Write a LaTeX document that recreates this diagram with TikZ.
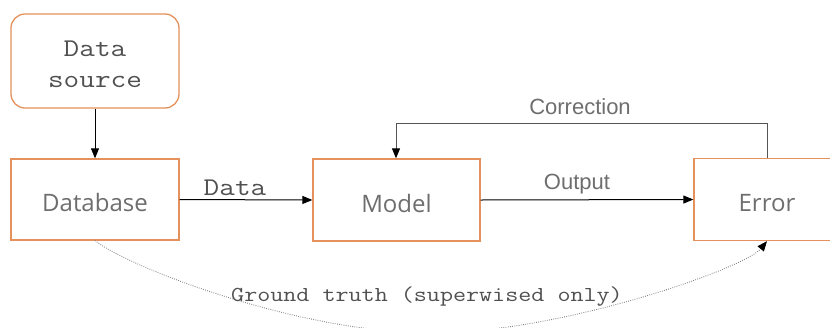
\documentclass[tikz,border=0pt]{standalone}
\usepackage{fontspec}
\setmainfont{Open Sans}
\newfontfamily\labelfont{Liberation Sans}
\newfontfamily\codefont[FakeStretch=1.19]{Latin Modern Mono}
\usetikzlibrary{arrows.meta}

\definecolor{boxline}{HTML}{E5915B}
\definecolor{textgray}{HTML}{6E6E6E}
\definecolor{codegray}{HTML}{505050}
\definecolor{linkgray}{HTML}{555555}

\tikzset{
  block/.style={draw=boxline, line width=1.3pt, fill=white, inner sep=0pt,
    text=textgray, font=\fontsize{24}{28}\selectfont,
    text height=24pt, text depth=0pt},
  sourcebox/.style={draw=boxline, line width=1.3pt, fill=white, rounded corners=14pt},
  sourcetext/.style={align=center, inner sep=0pt, text=codegray,
    font=\codefont\fontsize{25.5}{31}\selectfont},
  tip/.style={-{Triangle[length=10pt,width=8pt,color=black]}},
  link/.style={draw=black, line width=1pt, tip},
  feedback/.style={draw=linkgray, line width=1pt, tip},
  truth/.style={draw=gray, line width=0.9pt, dash pattern=on 0.8pt off 1.4pt, tip},
  sanslabel/.style={text=textgray, font=\labelfont\fontsize{22}{26}\selectfont, inner sep=0pt},
  codelabel/.style={text=codegray, font=\codefont\fontsize{25.5}{30}\selectfont, inner sep=0pt},
  smallcode/.style={text=codegray, font=\codefont\fontsize{21.3}{26}\selectfont, inner sep=0pt}
}

\begin{document}
\begin{tikzpicture}[x=1pt, y=-1pt]
  \useasboundingbox (0,0) rectangle (830,327);

  % boxes
  \node[sourcebox, minimum width=168pt, minimum height=94pt] (src) at (95,61) {};
  \node[sourcetext] (srcText) at (95,64) {Data\\source};
  \node[block, minimum width=168pt, minimum height=81pt] (db) at (95,199.5) {Database};
  \node[block, minimum width=167pt, minimum height=82pt] (model) at (396.5,200) {Model};
  \node[block, minimum width=146pt, minimum height=82pt] (err) at (767,199.5) {Error};

  % main flow
  \draw[link] (src.south) -- (db.north);
  \draw[link] (db.east) -- (model.west);
  \draw[link] (model.east) -- (err.west);

  % feedback loop
  \coordinate (corrR) at (767,123);
  \coordinate (corrL) at (396,123);
  \draw[feedback] (err.north) -- (corrR) -- (corrL) -- (model.north -| corrL);

  % ground truth path
  \coordinate (low) at (431,333);
  \draw[truth] (db.south) .. controls (130,268) and (300,333) .. (low)
    .. controls (562,333) and (745,268) .. (err.south);

  % labels
  \node[codelabel] (lblData) at (235,188) {Data};
  \node[sanslabel] (lblOut) at (577,184) {Output};
  \node[sanslabel] (lblCorr) at (580,107) {Correction};
  \node[smallcode] (lblTruth) at (427,297) {Ground truth (superwised only)};
\end{tikzpicture}
\end{document}
